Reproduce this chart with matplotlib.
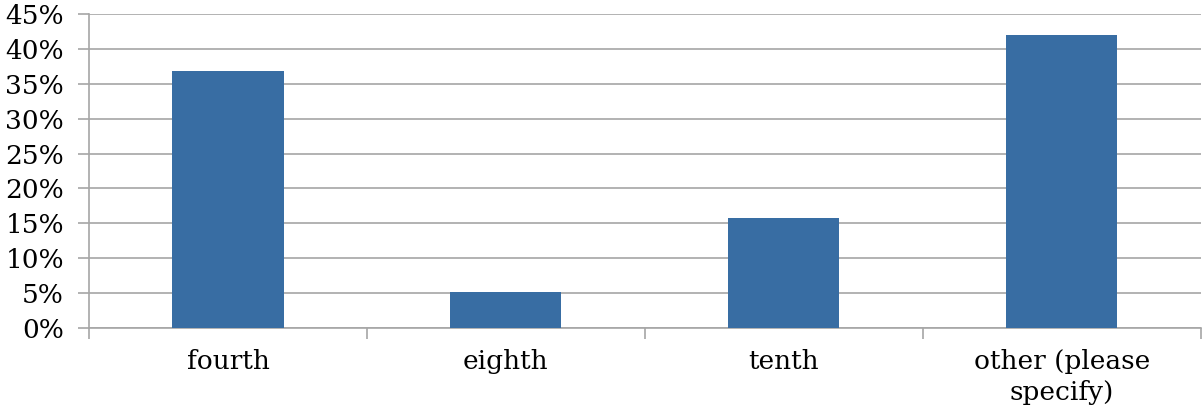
import matplotlib
matplotlib.use("Agg")
import matplotlib.pyplot as plt
from matplotlib.ticker import FuncFormatter, FixedLocator
import numpy as np

# grade level survey responses (share of respondents)
categories = ["fourth", "eighth", "tenth", "other (please\nspecify)"]
shares = [36.8, 5.2, 15.8, 42.0]
yticks = [0, 5, 10, 15, 20, 25, 30, 35, 40, 45]

plt.rcParams['font.family'] = ['DejaVu Serif']

fig = plt.figure(figsize=(12.03, 4.13), dpi=100)
ax = fig.add_axes([0.074, 0.206, 0.924, 0.76])

x = np.arange(len(categories))
ax.bar(x, shares, width=0.4, color="#386da3", zorder=3)

ax.set_xlim(-0.5, len(categories) - 0.5)
ax.set_ylim(0, 45)
ax.set_yticks(yticks)
ax.yaxis.set_major_formatter(FuncFormatter(lambda v, p: "%d%%" % v))
ax.grid(axis="y", color="#a6a6a6", linewidth=1.2, zorder=0)

# category labels centred, tick marks between categories
ax.set_xticks(x)
ax.set_xticklabels(categories, fontsize=19, linespacing=1.3)
ax.tick_params(axis="x", length=0, pad=15)
ax.xaxis.set_minor_locator(FixedLocator(np.arange(-0.5, len(categories), 1.0)))
ax.tick_params(axis="x", which="minor", length=8, color="#a6a6a6", width=1.2)
ax.tick_params(axis="y", length=8, color="#a6a6a6", width=1.2, labelsize=19, pad=10)

for side in ["top", "right"]:
    ax.spines[side].set_visible(False)
for side in ["left", "bottom"]:
    ax.spines[side].set_color("#a6a6a6")
    ax.spines[side].set_linewidth(1.2)

fig.savefig("out.png", dpi=100)
